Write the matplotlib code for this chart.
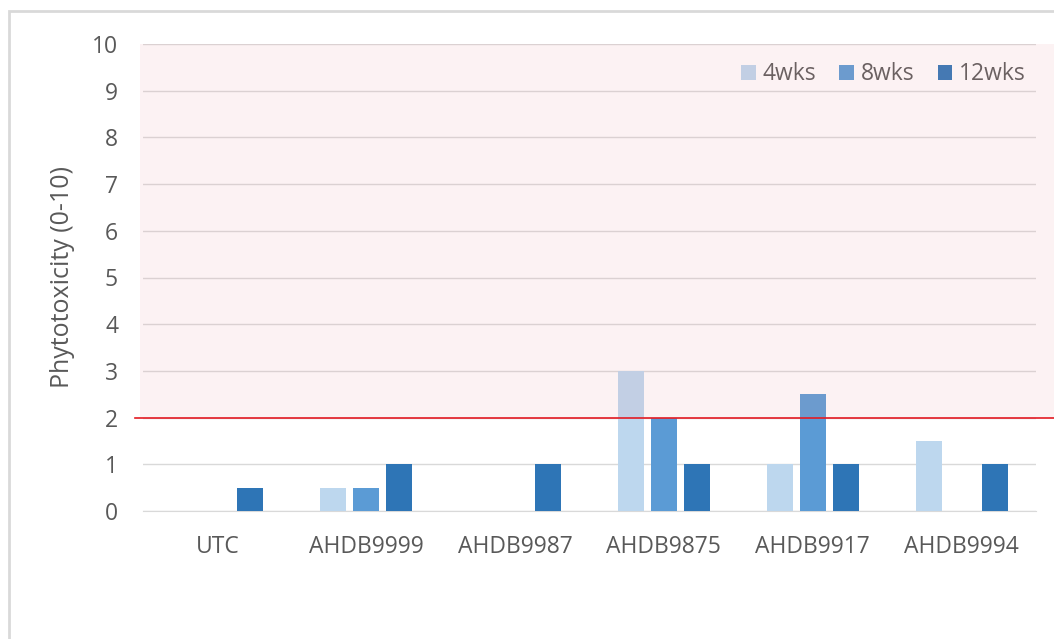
import matplotlib.pyplot as plt
import matplotlib.patches as mpatches
import matplotlib.lines as mlines
import numpy as np

plt.rcParams['font.family'] = ['Open Sans', 'DejaVu Sans']

categories = ["UTC", "AHDB9999", "AHDB9987", "AHDB9875", "AHDB9917", "AHDB9994"]
wk4 = [0, 0.5, 0, 3, 1, 1.5]
wk8 = [0, 0.5, 0, 2, 2.5, 0]
wk12 = [0.5, 1, 1, 1, 1, 1]
series_names = ["4wks", "8wks", "12wks"]
colors = ["#BDD7EE", "#5B9BD5", "#2E75B6"]
threshold = 2

W, H = 1054, 639
fig = plt.figure(figsize=(W / 100, H / 100), dpi=100)
ax = fig.add_axes([143 / W, 1 - 511 / H, (1036 - 143) / W, (511 - 44) / H])

x = np.arange(len(categories))
width = 0.175
step = 0.222
for i, (vals, name, c) in enumerate(zip([wk4, wk8, wk12], series_names, colors)):
    ax.bar(x + (i - 1) * step, vals, width, color=c, label=name, zorder=3)

ax.set_xlim(-0.5, len(categories) - 0.5)
ax.set_ylim(0, 10)
ax.set_yticks(range(0, 11))
ax.set_xticks(x)
ax.set_xticklabels(categories)
ax.grid(axis='y', color='#D9D9D9', linewidth=1, zorder=0)
for s in ['top', 'right', 'left']:
    ax.spines[s].set_visible(False)
ax.spines['bottom'].set_color('#D9D9D9')
ax.tick_params(length=0, labelsize=16.5, colors='#595959')
ax.tick_params(axis='x', pad=17)
ax.tick_params(axis='y', pad=18)
ax.set_ylabel("Phytotoxicity (0-10)", fontsize=18, color='#595959', labelpad=12)

ax.legend(loc='upper right', ncol=3, frameon=False, fontsize=16.5,
          handlelength=0.65, handleheight=0.65, handletextpad=0.3,
          columnspacing=1.0, labelcolor='#595959',
          bbox_to_anchor=(1.012, 1.005))

# shaded zone above the threshold and the threshold line
y_thr = ax.transData.transform((0, threshold))[1] / (H)
y_top = ax.transData.transform((0, 10))[1] / (H)
fig.patches.append(mpatches.Rectangle((140 / W, y_thr), 1 - 140 / W, y_top - y_thr,
                                      transform=fig.transFigure, facecolor='#EE9BA3',
                                      alpha=0.12, edgecolor='none', zorder=5))
fig.lines.append(mlines.Line2D([135 / W, 1], [y_thr, y_thr], transform=fig.transFigure,
                               color='#E31B23', linewidth=1.2, zorder=6))

# chart frame
fig.patches.append(mpatches.Rectangle((9 / W, -0.1), 1.2, 1 - 11 / H + 0.1,
                                      transform=fig.transFigure, facecolor='none',
                                      edgecolor='#D9D9D9', linewidth=2, zorder=7))

fig.savefig("out.png", dpi=100)
